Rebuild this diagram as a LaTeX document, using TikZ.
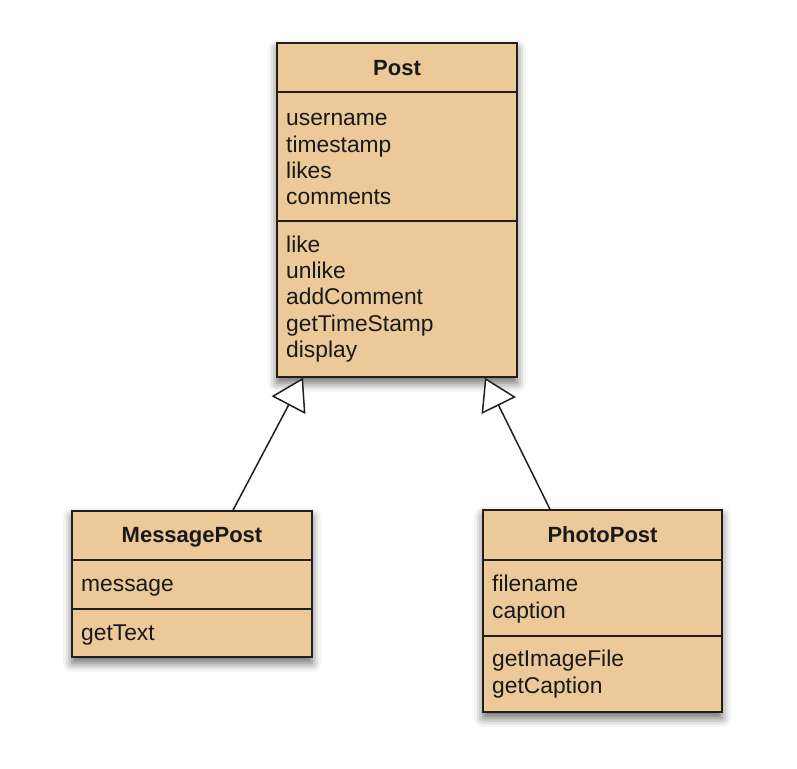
\documentclass[tikz,border=0pt]{standalone}
\usepackage{fontspec}
\setmainfont{Liberation Sans}
\usetikzlibrary{arrows.meta,shadows.blur}
\definecolor{classfill}{RGB}{236,201,152}
\definecolor{classline}{RGB}{34,30,26}
\begin{document}
\begin{tikzpicture}[x=1pt,y=-1pt,
  classbox/.style={draw=classline, line width=1.5pt, fill=classfill, inner sep=0pt,
    blur shadow={shadow xshift=0pt, shadow yshift=-6pt, shadow blur radius=9pt, shadow opacity=60}},
  divider/.style={draw=classline, line width=1.5pt},
  member/.style={anchor=base west, inner sep=0pt, font=\fontsize{22.8}{26}\selectfont, text=black!90},
  classname/.style={anchor=base, inner sep=0pt, font=\fontsize{22}{26}\selectfont\bfseries, text=black!90},
  inherits/.style={draw=classline, line width=1.5pt,
    -{Triangle[open, length=31pt, width=38pt, fill=white]}}]
\useasboundingbox (0,0) rectangle (797,768);

% class Post
\node[classbox, minimum width=240pt, minimum height=334pt] (post) at (397,210) {};
\draw[divider] (277,92) -- (517,92);
\draw[divider] (277,221) -- (517,221);
\node[classname] (post-name) at (397,75) {Post};
\node[member] (post-a1) at (286,125.7) {username};
\node[member] (post-a2) at (286,152) {timestamp};
\node[member] (post-a3) at (286,178.3) {likes};
\node[member] (post-a4) at (286,204.6) {comments};
\node[member] (post-m1) at (286,252.3) {like};
\node[member] (post-m2) at (286,278.6) {unlike};
\node[member] (post-m3) at (286,304.9) {addComment};
\node[member] (post-m4) at (286,331.2) {getTimeStamp};
\node[member] (post-m5) at (286,357.5) {display};

% class MessagePost
\node[classbox, minimum width=240pt, minimum height=146pt] (msg) at (192,584) {};
\draw[divider] (72,560) -- (312,560);
\draw[divider] (72,609) -- (312,609);
\node[classname] (msg-name) at (192,542.7) {MessagePost};
\node[member] (msg-a1) at (81,591.7) {message};
\node[member] (msg-m1) at (81,640.7) {getText};

% class PhotoPost
\node[classbox, minimum width=239pt, minimum height=202pt] (photo) at (602.5,611) {};
\draw[divider] (483,560) -- (722,560);
\draw[divider] (483,636) -- (722,636);
\node[classname] (photo-name) at (602.5,542.7) {PhotoPost};
\node[member] (photo-a1) at (492,591.7) {filename};
\node[member] (photo-a2) at (492,618.3) {caption};
\node[member] (photo-m1) at (492,666.7) {getImageFile};
\node[member] (photo-m2) at (492,693.3) {getCaption};

% generalisations
\draw[inherits] ([xshift=41pt]msg.north) -- ([xshift=-94pt]post.south);
\draw[inherits] ([xshift=-52.5pt]photo.north) -- ([xshift=88pt]post.south);
\end{tikzpicture}
\end{document}
